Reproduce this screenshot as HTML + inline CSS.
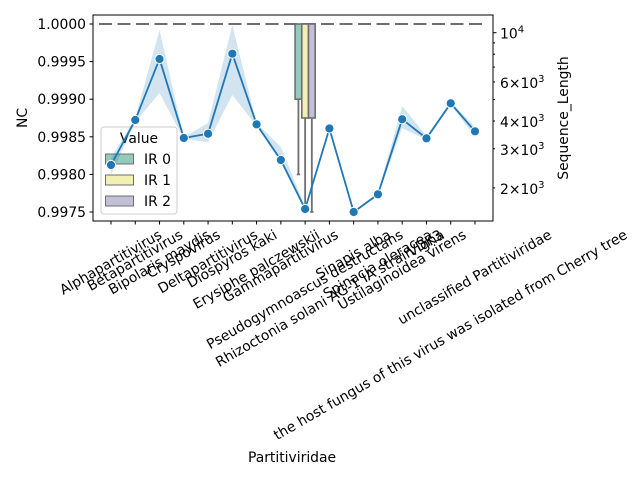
<!DOCTYPE html>
<html><head><meta charset="utf-8">
<style>
body{margin:0;background:#fff;}
svg{display:block;font-family:"DejaVu Sans","Liberation Sans",sans-serif;}
</style></head>
<body>
<svg id="chart" width="640" height="480" viewBox="0 0 640 480">
<rect x="0" y="0" width="640" height="480" fill="#fff"/>
<g id="legend"></g>
<g id="band"></g>
<g id="boxes"></g>
<g id="line"></g>
<g id="axes"></g>
</svg>
<script>
const categories = ["Alphapartitivirus","Betapartitivirus","Bipolaris maydis","Cryspovirus","Deltapartitivirus","Diospyros kaki","Erysiphe palczewskii","Gammapartitivirus","Pseudogymnoascus destructans","Rhizoctonia solani AG-1 IA strain DK3","Sinapis alba","Spinacia oleracea","Ustilaginoidea virens","Vigna","the host fungus of this virus was isolated from Cherry tree","unclassified Partitiviridae"];
const ncMean = [0.998125,0.998723,0.999535,0.998484,0.998541,0.999605,0.998666,0.998191,0.99754,0.99861,0.9975,0.997735,0.998733,0.99848,0.998945,0.998573];
const ncUpper = [0.998218,0.998750,0.999920,0.998497,0.998683,0.999987,0.998683,0.998364,0.997566,0.998630,0.997513,0.997753,0.998910,0.998510,0.998963,0.998630];
const ncLower = [0.997992,0.998697,0.999082,0.998471,0.998431,0.999056,0.998644,0.998152,0.997513,0.998590,0.997487,0.997713,0.998617,0.998457,0.998923,0.998497];
const boxNames = ["IR 0","IR 1","IR 2"];
const boxQ1 = [0.9990,0.99875,0.99875];
const boxQ3 = [1.0,1.0,1.0];
const boxWhiskerLow = [0.9980,0.9975,0.9975];
const boxCategory = 8;
const leftTicks = [1.0000,0.9995,0.9990,0.9985,0.9980,0.9975];
const rightMajor = [10000];
const rightMinorLabeled = [2000,3000,4000,6000];
const rightMinorUnlabeled = [5000,7000,8000,9000];

const NS="http://www.w3.org/2000/svg";
const L=93,R=493,T=15,B=221;
function yL(v){return 24+(1-v)/0.0005*37.6;}
function yR(v){return 32.7-222*Math.log10(v/10000);}
function xC(i){return 111+i*(475-111)/15;}
function mk(tag,attrs,parent){const e=document.createElementNS(NS,tag);for(const k in attrs)e.setAttribute(k,attrs[k]);parent.appendChild(e);return e;}
const FS="13.9px";

// band
const band=document.getElementById('band');
let d="M"+categories.map((c,i)=>xC(i)+","+yL(ncUpper[i])).join("L");
for(let i=categories.length-1;i>=0;i--) d+="L"+xC(i)+","+yL(ncLower[i]);
const bp=mk('path',{d:d+"Z",fill:"#1f77b4","fill-opacity":"0.2",stroke:"none"},band);



// dashed line
const boxes=document.getElementById('boxes');
const dl=mk('line',{x1:99,x2:486,y1:yL(1.0),y2:yL(1.0),stroke:"#6f6f6f","stroke-width":2,"stroke-dasharray":"13,5.5"},boxes);



const boxColors=["#94cabb","#f3f0b4","#c2bfd8"];
const bw=6.7;
boxNames.forEach((n,k)=>{
  const cx=xC(boxCategory)-bw+k*bw;
  const g=mk('g',{},boxes);
  
  
  mk('line',{x1:cx,x2:cx,y1:yL(boxQ1[k]),y2:yL(boxWhiskerLow[k]),stroke:"#6f6f6f","stroke-width":1.8},g);
  mk('line',{x1:cx-bw/4,x2:cx+bw/4,y1:yL(boxWhiskerLow[k]),y2:yL(boxWhiskerLow[k]),stroke:"#6f6f6f","stroke-width":1.8},g);
  mk('rect',{x:cx-bw/2,y:yL(boxQ3[k]),width:bw,height:yL(boxQ1[k])-yL(boxQ3[k]),fill:boxColors[k],stroke:"#6f6f6f","stroke-width":1.6},g);
});

// line
const line=document.getElementById('line');
const pl=mk('polyline',{points:ncMean.map((v,i)=>xC(i)+","+yL(v)).join(" "),fill:"none",stroke:"#1f77b4","stroke-width":1.8},line);


ncMean.forEach((v,i)=>{
  const c=mk('circle',{cx:xC(i),cy:yL(v),r:4.6,fill:"#1f77b4",stroke:"#fff","stroke-width":1},line);
  
  
});

// axes
const ax=document.getElementById('axes');
const fr=mk('rect',{x:L,y:T,width:R-L,height:B-T,fill:"none",stroke:"#000","stroke-width":1},ax);


leftTicks.forEach(v=>{
  const y=yL(v);
  mk('line',{x1:L-3.5,x2:L,y1:y,y2:y,stroke:"#000"},ax);
  const t=mk('text',{x:L-7,y:y+5,"text-anchor":"end","font-size":FS,fill:"#000"},ax);
  t.textContent=v.toFixed(4);
  
  
});
function sup(t,base,exp){const a=document.createElementNS(NS,'tspan');a.textContent=base;t.appendChild(a);const b=document.createElementNS(NS,'tspan');b.setAttribute('dy','-6');b.setAttribute('font-size','10px');b.textContent=exp;t.appendChild(b);}
rightMajor.forEach(v=>{
  const y=yR(v);
  mk('line',{x1:R,x2:R+3.5,y1:y,y2:y,stroke:"#000"},ax);
  const t=mk('text',{x:R+7,y:y+6,"font-size":FS,fill:"#000"},ax);
  sup(t,"10","4");
  
  
});
rightMinorLabeled.forEach(v=>{
  const y=yR(v);
  mk('line',{x1:R,x2:R+2,y1:y,y2:y,stroke:"#000"},ax);
  const t=mk('text',{x:R+7,y:y+6,"font-size":FS,fill:"#000"},ax);
  sup(t,(v/1000)+"\u00d710","3");
  
  
});
rightMinorUnlabeled.forEach(v=>{const y=yR(v);mk('line',{x1:R,x2:R+2,y1:y,y2:y,stroke:"#000"},ax);});
categories.forEach((c,i)=>{
  const x=xC(i);
  mk('line',{x1:x,x2:x,y1:B,y2:B+3.5,stroke:"#000"},ax);
  const t=mk('text',{x:0,y:0,"text-anchor":"middle","dominant-baseline":"central","font-size":FS,fill:"#000"},ax);
  t.textContent=c;
  
  
  const w=t.getComputedTextLength();
  const h=w*0.5+14*0.866;
  t.setAttribute('transform',`translate(${x},${B+7+h/2}) rotate(-30)`);
});
const yl=mk('text',{x:0,y:0,"text-anchor":"middle","font-size":FS,transform:"translate(27,118) rotate(-90)"},ax);
yl.textContent="NC";


const yr=mk('text',{x:0,y:0,"text-anchor":"middle","font-size":FS,transform:"translate(568,118) rotate(-90)"},ax);
yr.textContent="Sequence_Length";


const xl=mk('text',{x:292,y:462,"text-anchor":"middle","font-size":FS},ax);
xl.textContent="Partitiviridae";



// legend
const lg=document.getElementById('legend');
mk('rect',{x:101,y:127,width:76,height:87,rx:3,fill:"#fff","fill-opacity":"0.8",stroke:"#cccccc"},lg);
const lt=mk('text',{x:139,y:143,"text-anchor":"middle","font-size":FS},lg);
lt.textContent="Value";


boxNames.forEach((n,k)=>{
  const y=154+k*21;
  const g=mk('g',{},lg);
  
  
  mk('rect',{x:105.5,y:y,width:28,height:10,fill:boxColors[k],stroke:"#6f6f6f","stroke-width":1},g);
  const t=mk('text',{x:144,y:y+10,"font-size":FS},g);
  t.textContent=n;
});
</script>
</body></html>
